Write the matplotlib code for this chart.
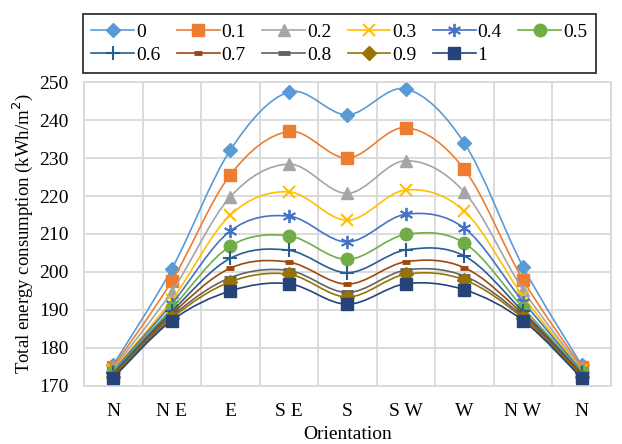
import numpy as np
import matplotlib
matplotlib.use('Agg')
import matplotlib.pyplot as plt
from matplotlib.path import Path
from matplotlib.patches import PathPatch
from matplotlib.lines import Line2D

plt.rcParams['font.family'] = ['Liberation Serif', 'DejaVu Serif']

# Orientation categories and series (window ratio) labels
orientations = ['N', 'N E', 'E', 'S E', 'S', 'S W', 'W', 'N W', 'N']
seriesLabels = ['0', '0.1', '0.2', '0.3', '0.4', '0.5', '0.6', '0.7', '0.8', '0.9', '1']

# Values (kWh/m2), one list per series
s0 = [175.5, 200.8, 232.1, 247.4, 241.4, 248.2, 233.9, 201.4, 175.5]
s01 = [175.0, 197.6, 225.6, 237.0, 230.0, 238.0, 227.0, 197.9, 175.0]
s02 = [174.6, 194.8, 219.8, 228.4, 220.7, 229.3, 221.0, 195.3, 174.6]
s03 = [174.2, 192.6, 215.0, 221.1, 213.6, 221.6, 216.0, 193.6, 174.2]
s04 = [173.9, 191.6, 210.8, 214.7, 207.9, 215.2, 211.5, 192.2, 173.9]
s05 = [173.6, 190.4, 206.8, 209.5, 203.3, 209.9, 207.6, 190.6, 173.6]
s06 = [173.3, 189.6, 203.6, 205.7, 199.8, 205.8, 204.2, 189.6, 173.3]
s07 = [173.0, 188.9, 201.0, 202.6, 196.8, 202.7, 201.1, 188.9, 173.0]
s08 = [172.7, 188.3, 198.5, 200.4, 194.6, 200.5, 198.9, 188.3, 172.7]
s09 = [172.4, 187.8, 197.4, 199.4, 193.4, 199.4, 197.9, 187.8, 172.4]
s10 = [172.1, 187.2, 195.0, 196.9, 191.5, 196.9, 195.3, 187.2, 172.1]
allSeries = [s0, s01, s02, s03, s04, s05, s06, s07, s08, s09, s10]

# Excel-like styling for each series
colors = ['#5B9BD5', '#ED7D31', '#A5A5A5', '#FFC000', '#4472C4', '#70AD47',
          '#255E91', '#9E480E', '#636363', '#997300', '#264478']
markers = ['D', 's', '^', 'x', (6, 2, 0), 'o', '+', '_', '_', 'D', 's']
markerSizes = [7.5, 8.5, 8.5, 9, 9.5, 9, 9.5, 6, 8, 7.5, 9]
markerEdge = [1, 1, 1, 1.5, 1.3, 1, 1.5, 3.5, 3.5, 1, 1]


def smoothPath(xs, ys):
    # Builds a cubic Bezier path through the points (Excel "smoothed line")
    pts = np.column_stack([xs, ys]).astype(float)
    n = len(pts)
    verts = [pts[0]]
    codes = [Path.MOVETO]
    for i in range(n - 1):
        p0 = pts[max(i - 1, 0)]
        p1 = pts[i]
        p2 = pts[i + 1]
        p3 = pts[min(i + 2, n - 1)]
        verts += [p1 + (p2 - p0) / 6, p2 - (p3 - p1) / 6, p2]
        codes += [Path.CURVE4] * 3
    return Path(verts, codes)


fig = plt.figure(figsize=(6.22, 4.44), dpi=100)
ax = fig.add_axes([0.135, 0.131, 0.847, 0.684])

x = np.arange(len(orientations))
handles = []
for i, values in enumerate(allSeries):
    path = smoothPath(x, values)
    ax.add_patch(PathPatch(path, fill=False, edgecolor=colors[i], linewidth=1.2, zorder=2 + i))
    ax.plot(x, values, linestyle='none', marker=markers[i], markersize=markerSizes[i],
            color=colors[i], markeredgecolor=colors[i], markeredgewidth=markerEdge[i], zorder=2 + i)
    handles.append(Line2D([], [], color=colors[i], linewidth=1.2, marker=markers[i],
                          markersize=markerSizes[i], markeredgewidth=markerEdge[i]))

ax.set_xlim(-0.5, len(orientations) - 0.5)
ax.set_ylim(170, 250)
ax.set_yticks(np.arange(170, 251, 10))
ax.set_xticks(x)
ax.set_xticklabels(orientations)
ax.set_xticks(np.arange(-0.5, len(orientations), 1), minor=True)
ax.grid(which='minor', axis='x', color='#D9D9D9', linewidth=1.3)
ax.grid(which='major', axis='y', color='#D9D9D9', linewidth=1.3)
ax.tick_params(which='both', length=0, labelsize=14)
ax.tick_params(axis='x', pad=12)
ax.tick_params(axis='y', pad=11)
for spine in ax.spines.values():
    spine.set_color('#D9D9D9')
    spine.set_linewidth(1.3)
ax.set_axisbelow(True)

ax.set_ylabel('Total energy consumption (kWh/m$^2$)', fontsize=13.5, labelpad=3)
ax.set_xlabel('Orientation', fontsize=14, labelpad=5)

# Row-wise legend order with 6 columns
order = [0, 6, 1, 7, 2, 8, 3, 9, 4, 10, 5]
leg = fig.legend([handles[k] for k in order], [seriesLabels[k] for k in order],
                 ncol=6, loc='center', mode='expand',
                 bbox_to_anchor=(0.133, 0.838, 0.825, 0.128),
                 fontsize=14, handlelength=2.2, handletextpad=0.1,
                 columnspacing=0.5, fancybox=False, borderaxespad=0,
                 borderpad=0.45, labelspacing=0.3)
leg.get_frame().set_edgecolor('black')
leg.get_frame().set_linewidth(1.3)

fig.savefig('out.png', dpi=100)
